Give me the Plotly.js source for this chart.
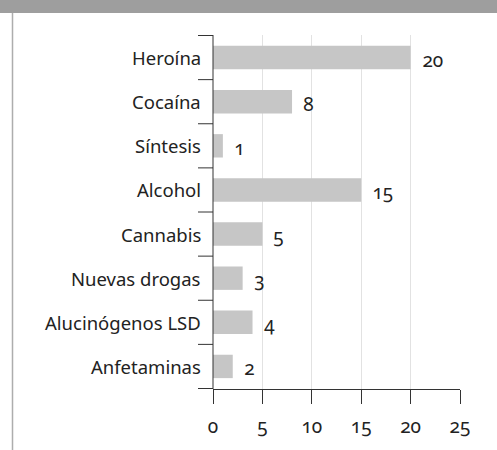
<!DOCTYPE html>
<html>
<head>
<meta charset="utf-8">
<script src="https://cdn.plot.ly/plotly-3.0.1.min.js"></script>
<style>
html,body{margin:0;padding:0;background:#fff;}
#chart text{font-variant-numeric:oldstyle-nums;font-feature-settings:"onum" 1;}
</style>
</head>
<body>
<div id="chart" style="width:497px;height:450px;"></div>
<script>
const categories = ["Heroína","Cocaína","Síntesis","Alcohol","Cannabis","Nuevas drogas","Alucinógenos LSD","Anfetaminas"];
const values = [20, 8, 1, 15, 5, 3, 4, 2];
const xTicks = [0, 5, 10, 15, 20, 25];

const W = 497, H = 450, L = 213, R = 37, T = 35, B = 61;
const pw = W - L - R, ph = H - T - B;
const px = x => (x - L) / pw;
const py = y => (H - B - y) / ph;

const FONT = "Noto Sans, Open Sans, sans-serif";
const AX = "#333";

const trace = {
  type: "bar",
  orientation: "h",
  x: values,
  y: categories,
  marker: {color: "#c6c6c6"},
  width: 0.53,
  hoverinfo: "none"
};

const valueLabels = values.map((v, i) => ({
  x: v, y: categories[i], xref: "x", yref: "y",
  text: String(v), showarrow: false,
  xanchor: "left", yanchor: "middle", xshift: 9, yshift: -2,
  font: {family: FONT, size: 19, color: "#222"}
}));

const catLabels = categories.map(c => ({
  x: px(203), y: c, xref: "paper", yref: "y",
  text: c, showarrow: false,
  xanchor: "right", yanchor: "middle", yshift: 0,
  font: {family: FONT, size: 18.5, color: "#222"}
}));

// y-axis line and boundary ticks (between categories)
const yAxisShapes = [{
  type: "line", xref: "paper", yref: "paper",
  x0: 0, x1: 0, y0: 0, y1: 1, line: {color: AX, width: 1}, layer: "above"
}];
for (let k = 0; k <= categories.length; k++) {
  yAxisShapes.push({
    type: "line", xref: "paper", yref: "y",
    x0: px(198), x1: 0, y0: k - 0.5, y1: k - 0.5,
    line: {color: AX, width: 1}, layer: "above"
  });
}

const layout = {
  width: W, height: H,
  margin: {l: L, r: R, t: T, b: B, pad: 0},
  paper_bgcolor: "#fff", plot_bgcolor: "#fff",
  showlegend: false,
  xaxis: {
    range: [0, 25], tickvals: xTicks, ticktext: xTicks.map(String),
    showgrid: true, gridcolor: "#e2e2e2", gridwidth: 1,
    zeroline: false, showline: true, linecolor: AX, linewidth: 1,
    ticks: "outside", ticklen: 14, tickcolor: AX, tickwidth: 1,
    ticklabelstandoff: 6,
    tickfont: {family: FONT, size: 19, color: "#222"},
    fixedrange: true
  },
  yaxis: {
    autorange: "reversed", type: "category",
    showline: false, ticks: "",
    showgrid: false, zeroline: false,
    showticklabels: false,
    fixedrange: true
  },
  annotations: valueLabels.concat(catLabels),
  shapes: [
    {type: "rect", xref: "paper", yref: "paper",
     x0: px(0), x1: px(W), y0: py(13), y1: py(0),
     fillcolor: "#9e9e9e", line: {width: 0}, layer: "above"},
    {type: "line", xref: "paper", yref: "paper",
     x0: px(12.5), x1: px(12.5), y0: py(13), y1: py(H),
     line: {color: "#adadad", width: 1.5}}
  ].concat(yAxisShapes)
};

Plotly.newPlot("chart", [trace], layout, {displayModeBar: false, staticPlot: true});
</script>
</body>
</html>
